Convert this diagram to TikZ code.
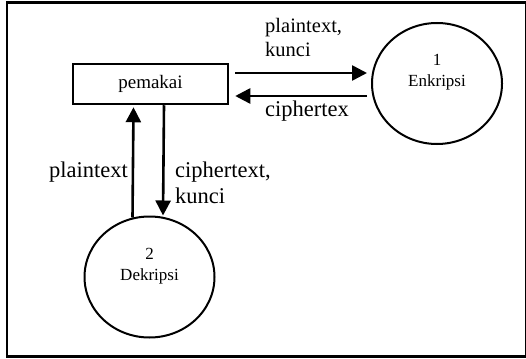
\documentclass[tikz,border=0pt]{standalone}
\usepackage{fontspec}
\setmainfont{Liberation Serif}
\usetikzlibrary{arrows.meta,shapes.geometric}
\tikzset{
  kotak/.style={draw,line width=2.5pt,minimum width=155pt,minimum height=40pt,inner sep=0pt,font=\fontsize{19}{22}\selectfont},
  proses/.style={draw,ellipse,line width=2pt,minimum width=130pt,minimum height=121pt,inner sep=0pt},
  isi/.style={align=center,inner sep=0pt,font=\fontsize{17}{21}\selectfont},
  panah/.style={line width=2.6pt,-{Triangle[length=15pt,width=15pt]}},
  ket/.style={align=left,inner sep=0pt,font=\fontsize{22.5}{26}\selectfont},
}
\begin{document}
\begin{tikzpicture}[x=1pt,y=-1pt]
  \useasboundingbox (0,0) rectangle (526,358);
  \draw[line width=2.6pt] (7,2.5) rectangle (526.3,356.5);
  % entitas dan proses
  \node[kotak] (pemakai) at (150.5,84) {pemakai};
  \node[proses] (enkripsi) at (437,83.5) {};
  \node[isi] (tenkripsi) at ([yshift=11pt]enkripsi.center) {1\\Enkripsi};
  \node[proses] (dekripsi) at (149.5,277) {};
  \node[isi] (tdekripsi) at ([yshift=11pt]dekripsi.center) {2\\Dekripsi};
  % aliran data
  \draw[panah] ([xshift=6pt,yshift=11pt]pemakai.east) -- ([xshift=-4pt,yshift=10.5pt]enkripsi.west);
  \draw[panah] ([xshift=-4pt,yshift=-12.5pt]enkripsi.west) -- ([xshift=6pt,yshift=-12pt]pemakai.east);
  \draw[panah] ([xshift=-17pt,yshift=-2pt]dekripsi.north) -- ([xshift=-17pt,yshift=-2pt]pemakai.south);
  \draw[panah] ([xshift=13.5pt]pemakai.south) -- ([xshift=13.5pt]dekripsi.north);
  % keterangan
  \node[ket,anchor=base west,font=\fontsize{20.5}{24}\selectfont] (k1) at (265,57) {plaintext,\\kunci};
  \node[ket,anchor=base west] (k2) at (265,117) {ciphertex};
  \node[ket,anchor=base east] (k3) at (128,177) {plaintext};
  \node[ket,anchor=base west] (k4) at (175,203) {ciphertext,\\kunci};
\end{tikzpicture}
\end{document}
